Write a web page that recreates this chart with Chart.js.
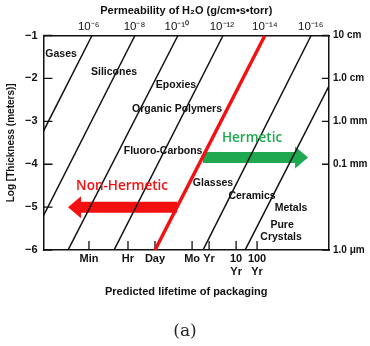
<!DOCTYPE html>
<html lang="en">
<head>
<meta charset="UTF-8">
<title>Permeability and package lifetime</title>
<script src="https://cdn.jsdelivr.net/npm/chart.js"></script>
<style>
  html, body { margin: 0; padding: 0; background: #fff; }
  #wrap { width: 370px; height: 346px; }
</style>
</head>
<body>
<div id="wrap"><canvas id="permChart"></canvas></div>
<script>
// x = log10(lifetime in seconds), y = log10(thickness in metres)
const thicknessEnds = [-6, -1];
const lineBottoms = [-2.95, -0.98, 0.95, 3.06, 4.94, 7.14, 9.07];
const lineTops = [2.05, 4.02, 5.99, 8.06, 9.98, 12.1, 14.1];
const boundaryLine = 4; // the red hermetic / non-hermetic boundary

const lifetimeTicks = [1.91, 3.70, 4.94, 6.64, 7.42, 8.66, 9.62];
const lifetimeLabels = ['Min', 'Hr', 'Day', 'Mo', 'Yr', ['10', 'Yr'], ['100', 'Yr']];

const permTicks = [1.9, 4.0, 5.94, 8.01, 9.98, 12.08];
const permLabels = ['10⁻⁶', '10⁻⁸', '10⁻¹⁰', '10⁻¹²', '10⁻¹⁴', '10⁻¹⁶'];

const thickTicks = [-1, -2, -3, -4, -5, -6];
const sizeTicks = [-1, -2, -3, -4, -6];
const sizeLabels = ['10 cm', '1.0 cm', '1.0 mm', '0.1 mm', '1.0 μm'];

const materialNames = ['Gases', 'Silicones', 'Epoxies', 'Organic Polymers', 'Fluoro-Carbons',
  'Glasses', 'Ceramics', 'Metals', 'Pure', 'Crystals'];
const materialX = [0.63, 3.06, 5.90, 5.95, 5.31, 7.60, 9.39, 11.18, 10.77, 10.72];
const materialY = [-1.43, -1.85, -2.15, -2.71, -3.69, -4.44, -4.74, -5.02, -5.42, -5.70];

const arrowNames = ['Hermetic', 'Non-Hermetic'];
const arrowFrom = [7.14, 5.95];
const arrowTo = [11.96, 0.95];
const arrowY = [-3.84, -5.0];
const arrowLabelX = [9.39, 3.43];
const arrowLabelY = [-3.39, -4.51];
const arrowColors = ['#1fa84f', '#f21010'];

const INK = '#111';
const BOLD = 'Liberation Sans, Arial, sans-serif';

const datasets = lineBottoms.map((b, i) => ({
  data: [{x: b, y: thicknessEnds[0]}, {x: lineTops[i], y: thicknessEnds[1]}],
  showLine: true,
  borderColor: i === boundaryLine ? '#f21010' : INK,
  borderWidth: i === boundaryLine ? 3.4 : 1.5,
  pointRadius: 0,
  clip: 0
}));

// short tick marks pointing into the plot
const inwardTicks = {
  id: 'inwardTicks',
  beforeDatasetsDraw(chart) {
    const {ctx, chartArea: a, scales} = chart;
    ctx.save();
    ctx.strokeStyle = INK;
    ctx.lineWidth = 1.3;
    ctx.beginPath();
    scales.x.ticks.forEach(t => {
      const px = scales.x.getPixelForValue(t.value);
      ctx.moveTo(px, a.bottom); ctx.lineTo(px, a.bottom - 9);
    });
    scales.y.ticks.forEach(t => {
      const py = scales.y.getPixelForValue(t.value);
      ctx.moveTo(a.left, py); ctx.lineTo(a.left + 9, py);
    });
    scales.yRight.ticks.forEach(t => {
      const py = scales.yRight.getPixelForValue(t.value);
      ctx.moveTo(a.right, py); ctx.lineTo(a.right - 7, py);
    });
    ctx.stroke();
    ctx.restore();
  }
};

// fat arrows for the two regions, drawn beneath the permeability lines
const regionArrows = {
  id: 'regionArrows',
  beforeDatasetsDraw(chart) {
    const {ctx, scales: {x, y}} = chart;
    const shaft = 5.5, head = 11, headLen = 13;
    ctx.save();
    arrowNames.forEach((name, i) => {
      const x0 = x.getPixelForValue(arrowFrom[i]);
      const x1 = x.getPixelForValue(arrowTo[i]);
      const py = y.getPixelForValue(arrowY[i]);
      const dir = x1 > x0 ? 1 : -1;
      const xb = x1 - dir * headLen;
      ctx.fillStyle = arrowColors[i];
      ctx.beginPath();
      ctx.moveTo(x0, py - shaft);
      ctx.lineTo(xb, py - shaft);
      ctx.lineTo(xb, py - head);
      ctx.lineTo(x1, py);
      ctx.lineTo(xb, py + head);
      ctx.lineTo(xb, py + shaft);
      ctx.lineTo(x0, py + shaft);
      ctx.closePath();
      ctx.fill();
    });
    ctx.restore();
  },
  afterDatasetsDraw(chart) {
    const {ctx, scales: {x, y}} = chart;
    ctx.save();
    ctx.textAlign = 'center';
    ctx.textBaseline = 'middle';
    ctx.font = '600 13.5px "Open Sans", sans-serif';
    arrowNames.forEach((name, i) => {
      ctx.fillStyle = arrowColors[i];
      ctx.fillText(name, x.getPixelForValue(arrowLabelX[i]), y.getPixelForValue(arrowLabelY[i]));
    });
    ctx.font = 'bold 10.5px ' + BOLD;
    ctx.fillStyle = INK;
    materialNames.forEach((name, i) => {
      ctx.fillText(name, x.getPixelForValue(materialX[i]), y.getPixelForValue(materialY[i]));
    });
    ctx.restore();
  }
};

const frame = {display: true, color: INK, width: 1.5};
const noGrid = {display: true, drawOnChartArea: false, drawTicks: false};

new Chart(document.getElementById('permChart'), {
  type: 'scatter',
  data: {datasets},
  options: {
    responsive: true,
    maintainAspectRatio: false,
    animation: false,
    events: [],
    plugins: {
      legend: {display: false},
      tooltip: {enabled: false},
      title: {
        display: true,
        position: 'bottom',
        text: '(a)',
        color: '#222',
        font: {family: 'DejaVu Serif, serif', size: 17, weight: 'normal'},
        padding: {top: 0, bottom: 4}
      }
    },
    scales: {
      x: {
        type: 'linear', position: 'bottom', min: -0.175, max: 12.92,
        afterBuildTicks: s => { s.ticks = lifetimeTicks.map(v => ({value: v})); },
        afterFit: s => { s.height = 71.5; },
        grid: noGrid, border: frame,
        ticks: {
          autoSkip: false, maxRotation: 0, padding: 2.5, color: INK,
          font: {family: BOLD, size: 11, weight: 'bold'},
          callback: (v, i) => lifetimeLabels[i]
        },
        title: {
          display: true, text: 'Predicted lifetime of packaging', color: INK,
          font: {family: BOLD, size: 11, weight: 'bold'},
          padding: {top: 0, bottom: 23}
        }
      },
      xTop: {
        type: 'linear', position: 'top', min: -0.175, max: 12.92,
        afterBuildTicks: s => { s.ticks = permTicks.map(v => ({value: v})); },
        afterFit: s => { s.height = 35.5; },
        grid: noGrid, border: frame,
        ticks: {
          autoSkip: false, maxRotation: 0, padding: 2, color: INK,
          font: {family: BOLD, size: 11.5},
          callback: (v, i) => permLabels[i]
        },
        title: {
          display: true, text: 'Permeability of H₂O (g/cm•s•torr)', color: INK,
          font: {family: BOLD, size: 11, weight: 'bold'},
          padding: {top: 4.4, bottom: 0}
        }
      },
      y: {
        type: 'linear', position: 'left', min: -6, max: -1,
        afterBuildTicks: s => { s.ticks = thickTicks.map(v => ({value: v})); },
        afterFit: s => { s.width = 43.5; },
        grid: noGrid, border: frame,
        ticks: {
          padding: 6, color: INK,
          font: {family: BOLD, size: 11, weight: 'bold'},
          callback: v => '−' + Math.abs(v)
        },
        title: {
          display: true, text: 'Log [Thickness (meters)]', color: INK,
          font: {family: BOLD, size: 10, weight: 'bold'},
          padding: {top: 5, bottom: 0}
        }
      },
      yRight: {
        type: 'linear', position: 'right', min: -6, max: -1,
        afterBuildTicks: s => { s.ticks = sizeTicks.map(v => ({value: v})); },
        afterFit: s => { s.width = 41; },
        grid: noGrid, border: frame,
        ticks: {
          padding: 4, color: INK,
          font: {family: BOLD, size: 10, weight: 'bold'},
          callback: (v, i) => sizeLabels[i]
        }
      }
    }
  },
  plugins: [inwardTicks, regionArrows]
});
</script>
</body>
</html>
